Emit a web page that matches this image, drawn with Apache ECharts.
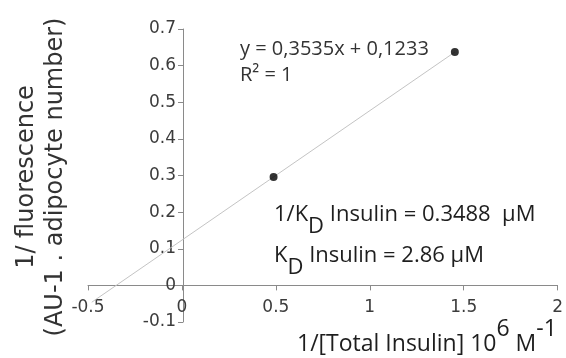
<!DOCTYPE html>
<html>
<head>
<meta charset="utf-8">
<script src="https://cdn.jsdelivr.net/npm/echarts@6/dist/echarts.min.js"></script>
<style>html,body{margin:0;padding:0;background:#fff;}#c{width:566px;height:358px;}</style>
</head>
<body>
<div id="c"></div>
<script>
// Data
var pointX = [0.488, 1.453];
var pointY = [0.296, 0.637];
var trendX = [-0.48, 1.453];
var trendY = [-0.046, 0.637];
var xTicks = [-0.5, 0, 0.5, 1, 1.5, 2];
var yTicks = [-0.1, 0, 0.1, 0.2, 0.3, 0.4, 0.5, 0.6, 0.7];
var equationText = 'y = 0,3535x + 0,1233';
var r2Text = 'R² = 1';
var yName1 = '1/ fluorescence';
var yName2 = '(AU-1 . adipocyte number)';

var W = 566, H = 358;
var G = {left: 88, right: 3, top: 29, bottom: 36};
var xMin = xTicks[0], xMax = xTicks[xTicks.length - 1];
var yMin = yTicks[0], yMax = yTicks[yTicks.length - 1];
var gw = W - G.left - G.right, gh = H - G.top - G.bottom;
// place each axis line at the other axis' zero
var yOffset = -((0 - xMin) / (xMax - xMin)) * gw;
var xOffset = -((0 - yMin) / (yMax - yMin)) * gh;

var chart = echarts.init(document.getElementById('c'), null, {renderer: 'canvas'});
var fmt = function (v) { return String(Math.round(v * 10) / 10); };
var axisCol = '#8a8a8a';
var labCol = '#3c3c3c';
var annFont = '"Open Sans"';

chart.setOption({
  animation: false,
  backgroundColor: '#ffffff',
  grid: {left: G.left, right: G.right, top: G.top, bottom: G.bottom, containLabel: false},
  xAxis: {
    type: 'value', min: xMin, max: xMax, interval: 0.5,
    position: 'bottom', offset: xOffset,
    axisLine: {onZero: false, lineStyle: {color: axisCol, width: 1}},
    axisTick: {show: true, length: 5, lineStyle: {color: axisCol}},
    splitLine: {show: false},
    axisLabel: {formatter: fmt, color: labCol, fontSize: 17, fontFamily: '"DejaVu Sans"', margin: 14}
  },
  yAxis: {
    type: 'value', min: yMin, max: yMax, interval: 0.1,
    position: 'left', offset: yOffset,
    axisLine: {show: true, onZero: false, lineStyle: {color: axisCol, width: 1}},
    axisTick: {show: true, length: 5, lineStyle: {color: axisCol}},
    splitLine: {show: false},
    axisLabel: {formatter: fmt, color: labCol, fontSize: 17, fontFamily: '"DejaVu Sans"', margin: 7}
  },
  series: [
    {
      type: 'line', data: trendX.map(function (x, i) { return [x, trendY[i]]; }),
      symbol: 'none', lineStyle: {color: '#c4c4c4', width: 1}, z: 1, silent: true
    },
    {
      type: 'scatter', data: pointX.map(function (x, i) { return [x, pointY[i]]; }),
      symbol: 'circle', symbolSize: 8, itemStyle: {color: '#000000'}, z: 3
    }
  ],
  graphic: [
    {
      type: 'text', x: 41, y: 177, rotation: Math.PI / 2,
      style: {
        text: yName1 + '\n' + yName2, fontSize: 24, fontFamily: '"DejaVu Sans"',
        fill: '#333333', align: 'center', verticalAlign: 'middle', lineHeight: 29
      }
    },
    {
      type: 'text', x: 240, y: 49,
      style: {text: equationText, fontSize: 20, fontFamily: annFont, fill: '#333333', align: 'left', verticalAlign: 'middle'}
    },
    {
      type: 'text', x: 240, y: 75,
      style: {text: r2Text, fontSize: 20, fontFamily: annFont, fill: '#333333', align: 'left', verticalAlign: 'middle'}
    },
    {
      type: 'text', x: 274, y: 215,
      style: {
        text: '{a|1/K}{s|D}{a| Insulin = 0.3488  µM}', align: 'left', verticalAlign: 'middle',
        rich: {
          a: {fontSize: 22, fontFamily: annFont, fill: '#1e1e1e'},
          s: {fontSize: 22, fontFamily: annFont, fill: '#1e1e1e', padding: [24, 0, 0, 0]}
        }
      }
    },
    {
      type: 'text', x: 274, y: 256,
      style: {
        text: '{a|K}{s|D}{a| Insulin = 2.86 µM}', align: 'left', verticalAlign: 'middle',
        rich: {
          a: {fontSize: 22, fontFamily: annFont, fill: '#1e1e1e'},
          s: {fontSize: 22, fontFamily: annFont, fill: '#1e1e1e', padding: [24, 0, 0, 0]}
        }
      }
    },
    {
      type: 'text', x: 297, y: 344,
      style: {
        text: '{a|1/[Total Insulin] 10}{u|6}{a| M}{u|-1}', align: 'left', verticalAlign: 'middle',
        rich: {
          a: {fontSize: 23, fontFamily: annFont, fill: '#1e1e1e'},
          u: {fontSize: 23, fontFamily: annFont, fill: '#1e1e1e', padding: [0, 0, 30, 0]}
        }
      }
    }
  ]
});
</script>
</body>
</html>
